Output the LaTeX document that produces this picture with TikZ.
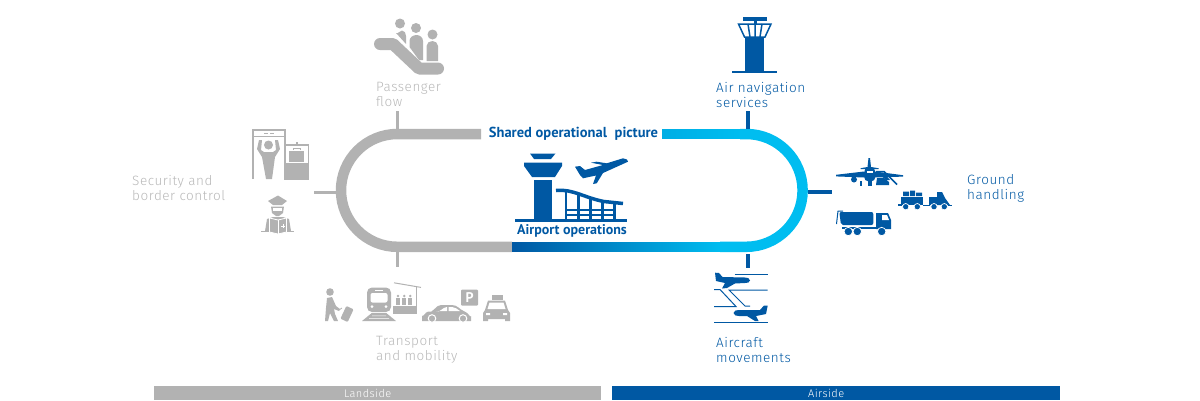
\documentclass[tikz,border=0pt]{standalone}
\usepackage{fontspec}
\newfontfamily\lblfont[LetterSpace=4]{Fira Sans Light}
\newfontfamily\headfont{PT Sans}
\definecolor{lgray}{HTML}{B2B2B2}
\definecolor{tgray}{HTML}{B8B8B8}
\definecolor{ablue}{HTML}{0058A3}
\definecolor{acyan}{HTML}{00BDF0}
\begin{document}
\begin{tikzpicture}[x=1pt,y=-1pt]
    \tikzstyle{lg} = [fill=lgray,draw=none];
    \tikzstyle{lb} = [fill=ablue,draw=none];
    \tikzstyle{wh} = [fill=white,draw=none];
    \tikzstyle{gl} = [draw=lgray,line width=1.5pt];
    \tikzstyle{bl} = [draw=ablue,line width=1.5pt];
    \tikzstyle{gt} = [text=tgray,font=\lblfont\fontsize{13.5}{15}\selectfont,align=left,anchor=west,inner sep=0pt];
    \tikzstyle{bt} = [gt,text=ablue];
    \tikzstyle{hd} = [text=ablue,font=\headfont\bfseries\fontsize{14}{15}\selectfont,inner sep=0pt];
    \tikzstyle{bar} = [text=white,font=\lblfont\fontsize{11}{12}\selectfont,minimum height=14pt,inner sep=0pt,anchor=north west];
    \tikzstyle{gtick} = [draw=lgray,line width=3pt];
    \tikzstyle{btick} = [draw=ablue,line width=3.5pt];

    \useasboundingbox (0,0) rectangle (1200,400);

    % loop
    \draw[draw=lgray,line width=10.5pt,rounded corners=56.4pt] (481,134) -| (341,246.8) -- (512,246.8);
    \draw[draw=acyan,line width=10.5pt,rounded corners=56.4pt] (740,134) -| (802.6,246.8) -- (720,246.8);
    \path[left color=ablue,right color=acyan,draw=none] (512,242) rectangle (721,251.6);
    \path[left color=acyan!85!ablue,right color=acyan,draw=none] (662,129.2) rectangle (741,138.8);

    % labels
    \node[hd,font=\headfont\bfseries\fontsize{14.5}{15}\selectfont] (shared) at (573.5,134) {Shared operational\; picture};
    \node[hd] (airport) at (572,231) {Airport operations};
    \node[gt] (passenger) at (376,94.5) {Passenger\\flow};
    \node[gt] (security) at (132,187.5) {Security and\\border control};
    \node[gt] (transport) at (376,349.5) {Transport\\and mobility};
    \node[bt] (airnav) at (716,94.5) {Air navigation\\services};
    \node[bt] (ground) at (967,188) {Ground\\handling};
    \node[bt] (movements) at (716,349.5) {Aircraft\\movements};
    \node[bar,fill=lgray,minimum width=447pt] (landside) at (154,386) {\hspace*{-20pt}Landside};
    \node[bar,fill=ablue,minimum width=448pt] (airside) at (612,386) {\hspace*{-20pt}Airside};

    % ticks
    \coordinate (p1) at (397,111);
    \coordinate (p2) at (397,129);
    \coordinate (s1) at (314,192);
    \coordinate (s2) at (336,192);
    \coordinate (t1) at (397,252);
    \coordinate (t2) at (397,267);
    \coordinate (a1) at (748,111);
    \coordinate (a2) at (748,129);
    \coordinate (g1) at (808,192);
    \coordinate (g2) at (832,192);
    \coordinate (m1) at (748,254);
    \coordinate (m2) at (748,268);
    \path[gtick] (p1) edge (p2)
                 (s1) edge (s2)
                 (t1) edge (t2);
    \path[btick] (a1) edge (a2)
                 (g1) edge (g2)
                 (m1) edge (m2);

    % escalator
    \draw[draw=lgray,line width=12pt,line cap=round,line join=round] (380,44) -- (393,44) -- (419,68.5) -- (438,68.5);
    \fill[lg] (400,23.5) circle (5) (416,28) circle (5) (432.5,34.5) circle (5);
    \fill[lg] (396,33) to[out=-40,in=180] (402,30.5) to[out=0,in=90] (406,36) -- (406,44) -- cycle;
    \fill[lg] (409.5,47) -- (409.5,41) to[out=90,in=180] (416.5,35) to[out=0,in=90] (423,41) -- (423,60) -- (419,60) -- cycle;
    \fill[lg] (426.5,61) -- (426.5,46) to[out=90,in=180] (432.5,41) to[out=0,in=90] (438,46) -- (438,61) -- cycle;

    % security gate
    \draw[gl] (253,179) -- (253,130) -- (285,130) -- (285,144);
    \draw[draw=lgray,line width=1pt] (253,136) -- (285,136);
    \draw[draw=lgray,line width=1pt] (264,133) -- (268,133) (270,133) -- (274,133);
    \fill[lg] (268.5,145) circle (4.5);
    \fill[lg] (257,149) -- (259,140) -- (262,140) -- (261,150) -- (264,152) -- (273,152) -- (276,150) -- (275,140) -- (278,140) -- (280,149) -- (275,157) -- (272,179) -- (266,179) -- (262,157) -- cycle;
    \draw[draw=lgray,line width=1.5pt] (285,145) rectangle (308.5,179);
    \fill[lg] (285,163) rectangle (308.5,179);
    \fill[lg] (289,150.5) rectangle (304,162);
    \draw[draw=lgray,line width=1pt] (293,150) -- (293,148) -- (300,148) -- (300,150);
    \fill[lg] (296,142) rectangle (298,145);

    % officer
    \fill[lg] (268,201) -- (278,195.5) -- (287,201) -- (282,205) -- (273,205) -- cycle;
    \fill[lg] (271,206.5) -- (284,206.5) -- (283,213) -- (279,216) -- (276,216) -- (272,213) -- cycle;
    \fill[wh] (273,208) rectangle (282,211);
    \fill[lg] (267,219) -- (273,217) -- (283,217) -- (289,219) -- (291,231) -- (265,231) -- cycle;
    \draw[draw=white,line width=.8pt,fill=lgray] (278,220) -- (269.5,218) -- (269.5,232) -- (278,234) -- (286.5,232) -- (286.5,218) -- cycle;
    \draw[draw=white,line width=.6pt] (278,220) -- (278,234) (281,226) -- (285,226) (283,224) -- (283,228);
    \draw[draw=lgray,line width=1pt] (261,231) -- (269,231) (287,231) -- (294,231);

    % walker
    \fill[lg] (330,292) circle (3.8);
    \fill[lg] (327,298) -- (332,297) -- (336,306) -- (340,309) -- (339,311) -- (334,309) -- (335,314) -- (338,321) -- (334,321) -- (330,313) -- (328,321) -- (325,321) -- (326,308) -- cycle;
    \fill[lg,rounded corners=1pt,rotate around={-25:(347,314)}] (343,307) rectangle (351,321);
    \draw[draw=lgray,line width=.8pt] (339,310) -- (342,308);

    % train
    \fill[lg,rounded corners=5pt] (367,287.5) rectangle (391,312);
    \fill[wh,rounded corners=2pt] (370.5,293) rectangle (387.5,302.5);
    \fill[wh] (372,306.5) circle (1.5) (386,306.5) circle (1.5);
    \fill[wh] (375,289.5) rectangle (383,290.5);
    \fill[lg] (371.5,313.2) -- (386.5,313.2) -- (396,321) -- (362,321) -- cycle;
    \fill[wh] (372,315.5) rectangle (386,316.2) (369,318) rectangle (389,318.7);
    \draw[draw=lgray,line width=1pt] (394,282.8) -- (421,287.4);
    \fill[lg] (415.5,287) rectangle (417,314);
    \fill[lg] (393,305.5) rectangle (417,314);
    \foreach \px in {398,404.3,410.3} {
      \fill[lg] (\px,296) circle (1.4);
      \fill[lg] (\px-2,298) rectangle (\px+2,305);
    }

    % car
    \fill[lg] (422,321) -- (422,315.5) to[out=-70,in=180] (428,311.7) to[out=-20,in=180] (441,305) -- (452,305) to[out=0,in=160] (465,311.7) to[out=-10,in=-90] (471,316) -- (471,321) -- cycle;
    \fill[wh] (436,311) to[out=-30,in=180] (447,307) -- (447,311) -- cycle;
    \fill[wh] (448.5,307) -- (452,307) to[out=0,in=150] (460,311) -- (448.5,311) -- cycle;
    \draw[draw=white,fill=lgray,line width=1pt] (432,318.5) circle (3.8) (463,318.5) circle (3.8);

    % parking
    \fill[lg,rounded corners=1pt] (461,289.5) rectangle (478,305.5);
    \node[text=white,font=\headfont\bfseries\fontsize{14}{14}\selectfont,inner sep=0pt] (parking) at (469.5,297.5) {P};

    % taxi
    \fill[lg] (492,295) rectangle (502.5,299.5);
    \fill[lg] (488,300.5) -- (505,300.5) -- (508,310) -- (510,313) -- (510,321) -- (505,321) -- (505,319) -- (488,319) -- (488,321) -- (483,321) -- (483,313) -- (485,310) -- cycle;
    \fill[wh] (489.5,302.5) -- (503.5,302.5) -- (505.5,309) -- (487.5,309) -- cycle;
    \fill[wh] (486,313) rectangle (490,315) (503,313) rectangle (507,315);

    % centre tower
    \fill[lb] (530,153.5) -- (555.5,153.5) -- (551,159) -- (534,159) -- cycle;
    \fill[lb] (524,162.5) -- (562,162.5) -- (562,166) -- (555,177) -- (532,177) -- (524,166) -- cycle;
    \fill[lb] (533.5,180) rectangle (552,220);
    \fill[lb] (515,219) rectangle (627,221.5);

    % terminal
    \draw[draw=ablue,line width=3.5pt] (556,190.5) .. controls (572,188.5) and (585,198) .. (604,201.5) -- (623,203.5);
    \foreach \px/\py in {566/191,578.3/194,590.7/198,602.7/201,614.7/203} {
      \draw[draw=ablue,line width=2.5pt] (\px,\py) -- (\px,220);
    }
    \draw[draw=ablue,line width=2pt] (566,209.5) -- (616,209.5) (566,215) -- (616,215);

    % centre plane
    \fill[lb] (627,159.5) -- (628,161.7) -- (603,173) -- (596.7,183.3) -- (593,184) -- (596,175.5) -- (583,178.3) -- (580,175) -- (575,166.7) -- (580,166) -- (585,170) -- (603,165) -- (591,162.7) -- (596.7,161.7) -- (606.7,163.3) -- (623,158.3) -- cycle;

    % navigation tower
    \fill[lb] (742.7,16.7) rectangle (767.3,21);
    \fill[lb] (753.5,21) rectangle (756.5,24);
    \draw[bl] (738.5,24) -- (771,24) -- (765,37) -- (744.5,37) -- cycle;
    \draw[bl] (748,24) -- (750,37) (755,24) -- (755,37) (762,24) -- (760,37);
    \fill[lb] (745,38) rectangle (764.3,71);
    \fill[lb] (731.7,71) rectangle (776.7,73);

    % stand aircraft
    \fill[lb] (836,174.8) -- (864,171.5) -- (875,171.5) -- (903,175.2) -- (903,176.6) -- (875,177.5) -- (864,177.5) -- (836,176.4) -- cycle;
    \fill[lb] (868.5,158) -- (870,158) -- (871,167) -- (878.5,168.2) -- (878.5,169.2) -- (860.5,169.2) -- (860.5,168.2) -- (867.5,167) -- cycle;
    \fill[lb,rounded corners=3pt] (864.5,168) rectangle (875,181);
    \fill[lb] (868,180) rectangle (871.5,185.5);
    \fill[wh] (866.5,171) rectangle (873,173);
    \fill[lb] (854,179.5) circle (3);
    \fill[lb] (859.8,181) rectangle (862,185.5);
    \draw[bl] (876,171.5) -- (884,171.5) -- (897,184.5);
    \fill[lb] (877,178) -- (884,178) -- (889,182) -- (889,185) -- (876,185) -- cycle;
    \fill[lb] (878,173) -- (884,173) -- (890,180) -- (886,180) -- cycle;

    % baggage tug
    \fill[lb] (901,197) rectangle (923,205);
    \fill[lb] (903,191.5) rectangle (909,196) (910,190.5) rectangle (915,196) (916,192.5) rectangle (922,196);
    \draw[draw=white,fill=ablue,line width=.7pt] (905.7,206.7) circle (3.2) (917.3,206.7) circle (3.2);
    \draw[bl] (898,205) -- (902,205) (923,205.5) -- (930,205.5) (948,205.5) -- (952,205.5);
    \fill[lb] (929,197) -- (937,197) -- (937,192) -- (942,192) -- (945,198) -- (950,205) -- (929,205) -- cycle;
    \draw[draw=white,fill=ablue,line width=.7pt] (934,206.7) circle (3.2) (944.3,206.7) circle (3.2);

    % tanker
    \fill[lb,rounded corners=2pt] (839.3,212) -- (873.3,212) -- (873.3,225) -- (841,225) -- cycle;
    \draw[draw=ablue,line width=1pt] (843,211) -- (838,211) -- (836.5,224);
    \fill[lb] (876,213) -- (888,213) -- (891,220) -- (891,229) -- (876,229) -- cycle;
    \fill[wh] (882,215) -- (887,215) -- (889,220) -- (882,220) -- cycle;
    \fill[lb] (842,226.5) rectangle (891,229);
    \draw[draw=white,fill=ablue,line width=.7pt] (848.3,231.5) circle (4.2) (857.3,231.5) circle (4.2) (881.7,231.5) circle (4.2);

    % movements
    \draw[draw=ablue,line width=1pt] (734.5,274.5) -- (767.7,274.5);
    \draw[draw=ablue,line width=1pt] (714,289.5) -- (720,289.5) -- (736,306.5) -- (714,306.5);
    \draw[draw=ablue,line width=1pt] (767.7,290) -- (729,290) -- (745,306) -- (750,306);
    \draw[draw=ablue,line width=1pt] (714,322.5) -- (767.7,322.5);
    \fill[lb] (715,272.7) -- (719,273) -- (722.5,277) -- (745,277.5) to[out=0,in=90] (750,280.5) to[out=-90,in=0] (745,283) -- (735,283.5) -- (727,288) -- (722,288.5) -- (725,283) -- (716,281) -- cycle;
    \fill[lb] (767.7,305.5) -- (764,305.5) -- (760,310) -- (739,310) to[out=180,in=90] (733.5,313) to[out=-90,in=180] (739,316) -- (747,316) -- (755,321) -- (758.5,321) -- (756,316) -- (766,314) -- cycle;
  \end{tikzpicture}
\end{document}
